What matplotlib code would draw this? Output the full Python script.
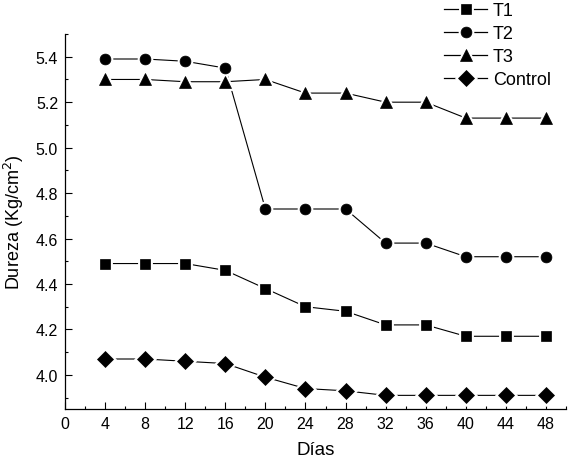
import matplotlib
matplotlib.use("Agg")
import matplotlib.pyplot as plt
from matplotlib.ticker import MultipleLocator, FormatStrFormatter
from matplotlib.lines import Line2D

plt.rcParams['font.family'] = ['Liberation Sans', 'DejaVu Sans']

dias = [4, 8, 12, 16, 20, 24, 28, 32, 36, 40, 44, 48]
t1 = [4.49, 4.49, 4.49, 4.46, 4.38, 4.30, 4.28, 4.22, 4.22, 4.17, 4.17, 4.17]
t2 = [5.39, 5.39, 5.38, 5.35, 4.73, 4.73, 4.73, 4.58, 4.58, 4.52, 4.52, 4.52]
t3 = [5.30, 5.30, 5.29, 5.29, 5.30, 5.24, 5.24, 5.20, 5.20, 5.13, 5.13, 5.13]
control = [4.07, 4.07, 4.06, 4.05, 3.99, 3.94, 3.93, 3.91, 3.91, 3.91, 3.91, 3.91]
yticks = [4.0, 4.2, 4.4, 4.6, 4.8, 5.0, 5.2, 5.4]

series = [("T1", t1, 's', 7.3), ("T2", t2, 'o', 7.8), ("T3", t3, '^', 9.0), ("Control", control, 'D', 8.2)]

fig = plt.figure(figsize=(5.84, 4.64), dpi=100)
ax = fig.add_axes([65/584, 1-410/464, (566-65)/584, (410-35)/464])

handles = []
for name, vals, m, ms in series:
    ax.plot(dias, vals, color='black', lw=0.8, zorder=2)
    ax.plot(dias, vals, ls='none', marker=m, ms=ms, mfc='white', mec='white', mew=3.5, zorder=3)
    ax.plot(dias, vals, ls='none', marker=m, ms=ms, mfc='black', mec='black', mew=0.5, zorder=4)
    h_line = Line2D([], [], color='black', lw=0.9)
    h_white = Line2D([], [], ls='none', marker=m, ms=ms, mfc='white', mec='white', mew=3.5)
    h_mark = Line2D([], [], ls='none', marker=m, ms=ms, mfc='black', mec='black', mew=0.5)
    handles.append((h_line, h_white, h_mark))

ax.set_xlim(0, 50)
ax.set_ylim(3.85, 5.5)
ax.set_xticks(list(range(0, 49, 4)))
ax.xaxis.set_minor_locator(MultipleLocator(2))
ax.set_yticks(yticks)
ax.yaxis.set_major_formatter(FormatStrFormatter('%.1f'))
ax.yaxis.set_minor_locator(MultipleLocator(0.1))

for s in ['top', 'right']:
    ax.spines[s].set_visible(False)
for s in ['left', 'bottom']:
    ax.spines[s].set_linewidth(0.9)

ax.tick_params(which='major', direction='in', length=5, width=0.8, labelsize=11.5, pad=5, colors='black')
ax.tick_params(which='minor', direction='in', length=2.5, width=0.8)

ax.set_xlabel("Días", fontsize=13.5, labelpad=7)
ax.set_ylabel("Dureza (Kg/cm$^2$)", fontsize=13, labelpad=7)

fig.legend(handles, [s[0] for s in series], loc='upper left', bbox_to_anchor=(444/584, 0.993),
           frameon=False, fontsize=13, handlelength=2.4, handletextpad=0.3, labelspacing=0.33,
           borderaxespad=0, borderpad=0)

fig.savefig("out.png", dpi=100)
